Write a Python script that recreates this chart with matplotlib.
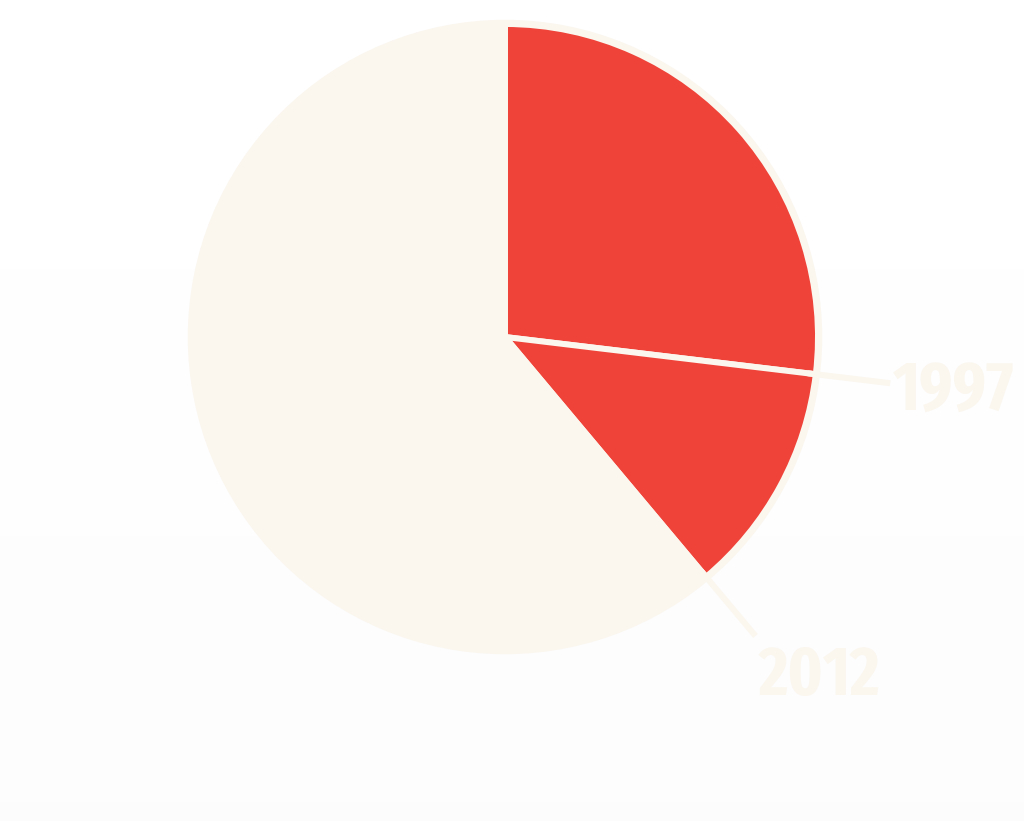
import matplotlib.pyplot as plt
import numpy as np

# 数据：两个红色扇区 + 其余部分
labels = ['1997', '2012']
shares = [26.9, 12.0, 61.1]
red = '#EF4238'
cream = '#FBF6EE'

fig = plt.figure(figsize=(10.24, 8.21), dpi=100)
ax = fig.add_axes([0, 0, 1, 1])

# 背景轻微渐变
grad = np.linspace(1.0, 0.988, 256).reshape(-1, 1)
ax.imshow(grad, extent=[0, 1024, 0, 821], cmap='gray', vmin=0, vmax=1,
          aspect='auto', zorder=0)

cx, cy = 505, 821 - 337
ax.add_patch(plt.Circle((cx, cy), 316.5, color=cream, zorder=1))

wedges, _ = ax.pie(shares, colors=[red, red, cream], startangle=90,
                   counterclock=False, radius=313, center=(cx, cy),
                   wedgeprops=dict(edgecolor=cream, linewidth=4.3),
                   frame=True)
for w in wedges:
    w.set_zorder(2)
ax.set_xlim(0, 1024)
ax.set_ylim(0, 821)
ax.set_aspect('equal')
ax.axis('off')

# 引线和标签
cum = np.cumsum(shares)
label_pos = {'1997': (893, 821 - 410, 388), '2012': (759, 821 - 695, 390)}
for lab, c in zip(labels, cum[:2]):
    ang = np.deg2rad(90 - c / 100 * 360)
    x_txt, y_base, r_end = label_pos[lab]
    r0 = 305
    ax.plot([cx + r0 * np.cos(ang), cx + r_end * np.cos(ang)],
            [cy + r0 * np.sin(ang), cy + r_end * np.sin(ang)],
            color=cream, linewidth=4.3, solid_capstyle='butt', zorder=3)
    ax.text(x_txt, y_base, lab, fontsize=50, fontweight='bold',
            family=['Fira Sans Extra Condensed', 'DejaVu Sans'],
            color=cream, ha='left', va='baseline', zorder=3)

fig.savefig('out.png', dpi=100)
